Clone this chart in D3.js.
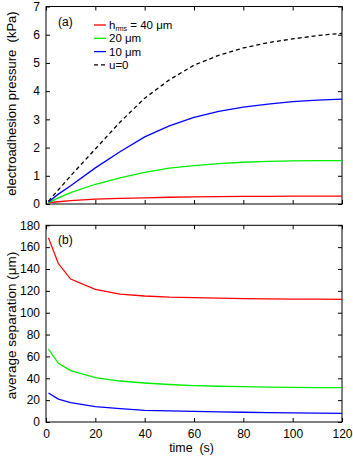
<!DOCTYPE html>
<html>
<head>
<meta charset="utf-8">
<script src="https://cdn.jsdelivr.net/npm/d3@7"></script>
<style>
  body { margin: 0; background: #fff; }
  svg { font-family: "Liberation Sans", Arial, sans-serif; }
  text { white-space: pre; }
</style>
</head>
<body>
<div id="chart"></div>
<script>
// time (s)
const times = [1, 5, 10, 20, 30, 40, 50, 60, 70, 80, 90, 100, 110, 120];

// (a) electroadhesion pressure (kPa)
const pressure40 = [0.05, 0.08, 0.12, 0.17, 0.20, 0.22, 0.24, 0.25, 0.26, 0.27, 0.27, 0.28, 0.28, 0.28];
const pressure20 = [0.05, 0.22, 0.40, 0.70, 0.93, 1.12, 1.27, 1.36, 1.43, 1.48, 1.51, 1.53, 1.54, 1.54];
const pressure10 = [0.07, 0.35, 0.65, 1.28, 1.85, 2.38, 2.77, 3.07, 3.28, 3.43, 3.54, 3.63, 3.68, 3.72];
const pressureU0 = [0.10, 0.50, 1.00, 1.95, 2.90, 3.75, 4.40, 4.92, 5.27, 5.53, 5.72, 5.85, 5.97, 6.05];

// (b) average separation (um)
const sep40 = [168.5, 145, 130.8, 121.4, 117, 115.3, 114.3, 113.8, 113.3, 112.9, 112.7, 112.5, 112.4, 112.3];
const sep20 = [66.8, 53.7, 47, 40.6, 37.5, 35.7, 34.3, 33.3, 32.7, 32.3, 32.0, 31.7, 31.5, 31.4];
const sep10 = [26.5, 21, 17.7, 14, 12.2, 10.7, 10.2, 9.8, 9.3, 8.9, 8.6, 8.3, 8.1, 7.9];

const xTicks = [0, 20, 40, 60, 80, 100, 120];
const yTicksA = [0, 1, 2, 3, 4, 5, 6, 7];
const yTicksB = [0, 20, 40, 60, 80, 100, 120, 140, 160, 180];

const width = 353, height = 457;
const left = 46, right = 342;

const svg = d3.select("#chart").append("svg")
    .attr("width", width)
    .attr("height", height);

const x = d3.scaleLinear().domain([0, 120]).range([left, right]);

function drawPanel(cfg) {
    const y = d3.scaleLinear().domain(cfg.domain).range([cfg.bottom, cfg.top]);
    const g = svg.append("g");

    // inward ticks, mirrored on all four sides
    g.append("g")
        .attr("transform", `translate(0,${cfg.bottom})`)
        .call(d3.axisBottom(x).tickValues(xTicks).tickSizeInner(-4).tickSizeOuter(0).tickPadding(7)
            .tickFormat(cfg.xLabels ? d3.format("d") : ""));
    g.append("g")
        .attr("transform", `translate(0,${cfg.top})`)
        .call(d3.axisTop(x).tickValues(xTicks).tickSizeInner(-4).tickSizeOuter(0).tickFormat(""));
    g.append("g")
        .attr("transform", `translate(${left},0)`)
        .call(d3.axisLeft(y).tickValues(cfg.yTicks).tickSizeInner(-4).tickSizeOuter(0).tickPadding(6)
            .tickFormat(d3.format("d")));
    g.append("g")
        .attr("transform", `translate(${right},0)`)
        .call(d3.axisRight(y).tickValues(cfg.yTicks).tickSizeInner(-4).tickSizeOuter(0).tickFormat(""));

    g.selectAll(".domain").remove();
    g.selectAll(".tick text").attr("font-size", 12).attr("fill", "#000");
    g.selectAll(".tick line").attr("stroke", "#000");

    g.append("rect")
        .attr("x", left).attr("y", cfg.top)
        .attr("width", right - left).attr("height", cfg.bottom - cfg.top)
        .attr("fill", "none").attr("stroke", "#000").attr("stroke-width", 1);

    const line = d3.line().x(d => x(d[0])).y(d => y(d[1]));
    cfg.series.forEach(s => {
        g.append("path")
            .datum(times.map((t, i) => [t, s.values[i]]))
            .attr("d", line)
            .attr("fill", "none")
            .attr("stroke", s.color)
            .attr("stroke-width", 1.3)
            .attr("stroke-dasharray", s.dash || null);
    });

    g.append("text")
        .attr("x", 58).attr("y", cfg.top + 19)
        .attr("font-size", 12)
        .text(cfg.tag);

    g.append("text")
        .attr("transform", `translate(16,${cfg.labelMid}) rotate(-90)`)
        .attr("text-anchor", "middle")
        .attr("font-size", cfg.labelSize)
        .text(cfg.yLabel);

    return y;
}

drawPanel({
    top: 6.5, bottom: 204, domain: [0, 7], yTicks: yTicksA, xLabels: false, tag: "(a)",
    yLabel: "electroadhesion pressure  (kPa)", labelMid: 103.5, labelSize: 13,
    series: [
        { values: pressure40, color: "#ff0000" },
        { values: pressure20, color: "#00ee00" },
        { values: pressure10, color: "#0000ff" },
        { values: pressureU0, color: "#000000", dash: "4,3" }
    ]
});

drawPanel({
    top: 225.3, bottom: 422, domain: [0, 180], yTicks: yTicksB, xLabels: true, tag: "(b)",
    yLabel: "average separation (\u03bcm)", labelMid: 325.5, labelSize: 13.5,
    series: [
        { values: sep40, color: "#ff0000" },
        { values: sep20, color: "#00ee00" },
        { values: sep10, color: "#0000ff" }
    ]
});

svg.append("text")
    .attr("x", 191.5).attr("y", 452)
    .attr("text-anchor", "middle")
    .attr("font-size", 12.4)
    .text("time  (s)");

// legend
const legendItems = [
    { color: "#ff0000", label: "40 \u03bcm", first: true },
    { color: "#00ee00", label: "20 \u03bcm" },
    { color: "#0000ff", label: "10 \u03bcm" },
    { color: "#000000", label: "u=0", dash: "4,3" }
];
const legend = svg.append("g");
legendItems.forEach((d, i) => {
    const ly = 25 + i * 13.3;
    legend.append("line")
        .attr("x1", 94).attr("x2", 106)
        .attr("y1", ly).attr("y2", ly)
        .attr("stroke", d.color).attr("stroke-width", 1.3)
        .attr("stroke-dasharray", d.dash || null);
    const t = legend.append("text")
        .attr("x", 109).attr("y", ly + 4)
        .attr("font-size", 11.5);
    if (d.first) {
        t.append("tspan").text("h");
        t.append("tspan").attr("font-size", 7).attr("dy", 2).text("rms");
        t.append("tspan").attr("dy", -2).text(" = " + d.label);
    } else {
        t.text(d.label);
    }
});
</script>
</body>
</html>
